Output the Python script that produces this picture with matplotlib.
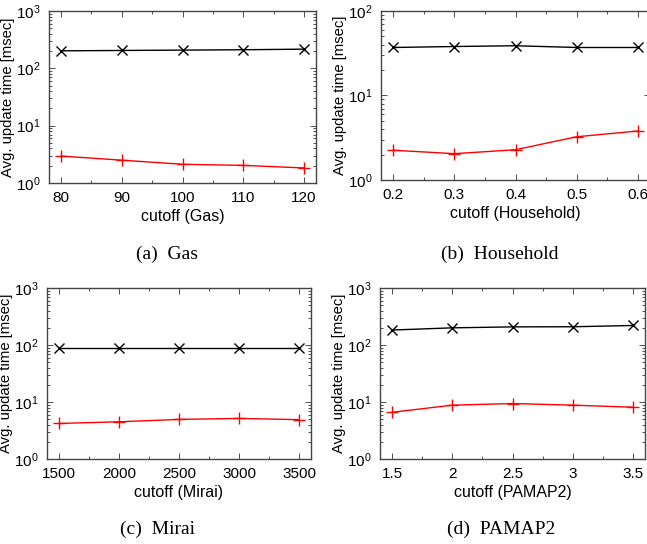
import matplotlib
matplotlib.use("Agg")
import matplotlib.pyplot as plt
from matplotlib.ticker import MultipleLocator, LogLocator, NullFormatter, FixedLocator

plt.rcParams['font.family'] = ['Liberation Sans', 'DejaVu Sans']
plt.rcParams['mathtext.fontset'] = 'custom'
plt.rcParams['mathtext.rm'] = 'Liberation Sans'
plt.rcParams['mathtext.it'] = 'Liberation Sans:italic'

# ---- data ----
gas_x = [80, 90, 100, 110, 120]
gas_black = [202, 205, 208, 211, 216]
gas_red = [2.95, 2.5, 2.12, 2.03, 1.83]

house_x = [0.2, 0.3, 0.4, 0.5, 0.6]
house_black = [37, 38, 38.8, 37, 37]
house_red = [2.25, 2.05, 2.28, 3.25, 3.8]

mirai_x = [1500, 2000, 2500, 3000, 3500]
mirai_black = [90, 90, 90, 90, 90]
mirai_red = [4.2, 4.5, 4.95, 5.15, 4.9]

pamap_x = [1.5, 2.0, 2.5, 3.0, 3.5]
pamap_black = [183, 200, 208, 209, 220]
pamap_red = [6.6, 8.8, 9.4, 8.8, 8.1]

xtick_labels = {
    'gas': ['80', '90', '100', '110', '120'],
    'house': ['0.2', '0.3', '0.4', '0.5', '0.6'],
    'mirai': ['1500', '2000', '2500', '3000', '3500'],
    'pamap': ['1.5', '2', '2.5', '3', '3.5'],
}

W, H = 647, 544
fig = plt.figure(figsize=(W / 100, H / 100), dpi=100)


def make_ax(l, r, t, b):
    return fig.add_axes([l / W, 1 - b / H, (r - l) / W, (b - t) / H])


panels = [
    dict(box=(49, 316, 11, 183), x=gas_x, k=gas_black, r=gas_red, xlim=(78, 122),
         ylim=(1, 1000), minor=5, lab='cutoff (Gas)', tl=xtick_labels['gas'],
         cap='(a)  Gas', capxy=(167, 254)),
    dict(box=(381, 650, 11, 180), x=house_x, k=house_black, r=house_red, xlim=(0.18, 0.62),
         ylim=(1, 100), minor=0.05, lab='cutoff (Household)', tl=xtick_labels['house'],
         cap='(b)  Household', capxy=(500, 254)),
    dict(box=(47, 311, 288, 459), x=mirai_x, k=mirai_black, r=mirai_red, xlim=(1400, 3600),
         ylim=(1, 1000), minor=250, lab='cutoff (Mirai)', tl=xtick_labels['mirai'],
         cap='(c)  Mirai', capxy=(158, 529)),
    dict(box=(380, 645, 288, 459), x=pamap_x, k=pamap_black, r=pamap_red, xlim=(1.4, 3.6),
         ylim=(1, 1000), minor=0.25, lab='cutoff (PAMAP2)', tl=xtick_labels['pamap'],
         cap='(d)  PAMAP2', capxy=(501, 529)),
]

for p in panels:
    ax = make_ax(*p['box'])
    ax.plot(p['x'], p['k'], color='black', lw=1.0, marker='x', ms=6.5, mew=1.0)
    ax.plot(p['x'], p['r'], color='red', lw=1.0, marker='+', ms=9, mew=1.0)
    ax.set_yscale('log')
    ax.set_xlim(*p['xlim'])
    ax.set_ylim(*p['ylim'])
    ax.xaxis.set_major_locator(FixedLocator(p['x']))
    ax.set_xticklabels(p['tl'])
    ax.xaxis.set_minor_locator(MultipleLocator(p['minor']))
    ax.yaxis.set_minor_locator(LogLocator(base=10, subs=range(2, 10)))
    ax.yaxis.set_minor_formatter(NullFormatter())
    ax.tick_params(which='both', direction='in', top=True, right=True, labelsize=11,
                   color='#333333', width=0.6)
    ax.tick_params(which='major', length=4, pad=6)
    ax.tick_params(which='minor', length=2)
    for s in ax.spines.values():
        s.set_color('#444444')
        s.set_linewidth(1.0)
    ax.set_xlabel(p['lab'], fontsize=11.5, labelpad=3)
    ax.set_ylabel('Avg. update time [msec]', fontsize=10.7, labelpad=1)
    cx, cy = p['capxy']
    fig.text(cx / W, 1 - cy / H, p['cap'], ha='center', va='center',
             fontsize=14, family=['Liberation Serif', 'DejaVu Serif'])

fig.savefig('out.png', dpi=100)
